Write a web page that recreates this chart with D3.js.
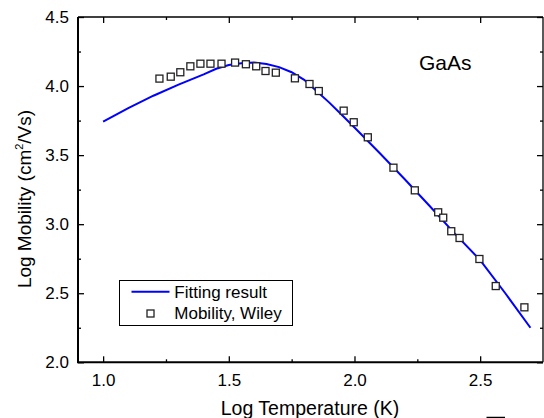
<!DOCTYPE html>
<html>
<head>
<meta charset="utf-8">
<script src="https://cdn.jsdelivr.net/npm/d3@7"></script>
<style>
  body { margin: 0; background: #fff; }
  svg { display: block; font-family: "Liberation Sans", Arial, sans-serif; }
</style>
</head>
<body>
<svg id="chart" width="544" height="418"></svg>
<script>
// measured points (Wiley)
const logT = [1.224, 1.269, 1.307, 1.347, 1.387, 1.427, 1.471, 1.525, 1.568, 1.609, 1.646, 1.687,
  1.763, 1.821, 1.858, 1.957, 1.997, 2.053, 2.155, 2.240, 2.333, 2.353, 2.385, 2.418, 2.497, 2.562, 2.676];
const logMu = [4.054, 4.068, 4.100, 4.143, 4.162, 4.162, 4.162, 4.170, 4.158, 4.143, 4.109, 4.097,
  4.056, 4.015, 3.964, 3.822, 3.738, 3.629, 3.409, 3.245, 3.086, 3.047, 2.949, 2.900, 2.748, 2.552, 2.398];

// fitted curve
const fitT = [1.00, 1.10, 1.20, 1.30, 1.40, 1.45, 1.50, 1.55, 1.60, 1.65, 1.70, 1.75, 1.80, 1.85,
  1.90, 1.95, 2.00, 2.10, 2.20, 2.30, 2.40, 2.50, 2.60, 2.70];
const fitMu = [3.742, 3.840, 3.930, 4.010, 4.085, 4.125, 4.152, 4.165, 4.170, 4.160, 4.137, 4.100,
  4.045, 3.963, 3.880, 3.790, 3.700, 3.515, 3.325, 3.130, 2.930, 2.740, 2.500, 2.250];

const xTicks = [1.0, 1.5, 2.0, 2.5];
const yTicks = [2.0, 2.5, 3.0, 3.5, 4.0, 4.5];

const svg = d3.select('#chart');
const pLeft = 78, pRight = 543, pTop = 17, pBottom = 362.3;

const x = d3.scaleLinear().domain([0.9, 2.75]).range([pLeft, pRight]);
const y = d3.scaleLinear().domain([2.0, 4.5]).range([pBottom, pTop]);

const xMinor = [1.25, 1.75, 2.25];
const yMinor = d3.range(2.25, 4.5, 0.5);

// fitted line first, squares on top
const line = d3.line().x((d) => x(d[0])).y((d) => y(d[1]));
svg.append('path')
  .datum(d3.zip(fitT, fitMu))
  .attr('d', line)
  .attr('fill', 'none')
  .attr('stroke', '#0000ff')
  .attr('stroke-width', 2);

svg.append('g')
  .selectAll('rect')
  .data(d3.zip(logT, logMu))
  .join('rect')
  .attr('x', (d) => x(d[0]) - 3.5)
  .attr('y', (d) => y(d[1]) - 3.5)
  .attr('width', 7)
  .attr('height', 7)
  .attr('fill', '#fff')
  .attr('stroke', '#222')
  .attr('stroke-width', 1.3);

// axes: ticks point inward on all four sides
const xBottom = d3.axisBottom(x).tickValues(xTicks).tickSize(-6).tickFormat(d3.format('.1f')).tickPadding(12);
const gxb = svg.append('g').attr('transform', `translate(0,${pBottom})`).call(xBottom);
svg.append('g').attr('transform', `translate(0,${pBottom})`)
  .call(d3.axisBottom(x).tickValues(xMinor).tickSize(-3).tickFormat(''));

svg.append('g').attr('transform', `translate(0,${pTop})`)
  .call(d3.axisTop(x).tickValues(xTicks).tickSize(-6).tickFormat(''));
svg.append('g').attr('transform', `translate(0,${pTop})`)
  .call(d3.axisTop(x).tickValues(xMinor).tickSize(-3).tickFormat(''));

const yLeft = d3.axisLeft(y).tickValues(yTicks).tickSize(-6).tickFormat(d3.format('.1f')).tickPadding(9);
svg.append('g').attr('transform', `translate(${pLeft},0)`).call(yLeft);
svg.append('g').attr('transform', `translate(${pLeft},0)`)
  .call(d3.axisLeft(y).tickValues(yMinor).tickSize(-3).tickFormat(''));

svg.append('g').attr('transform', `translate(${pRight},0)`)
  .call(d3.axisRight(y).tickValues(yTicks).tickSize(-6).tickFormat(''));
svg.append('g').attr('transform', `translate(${pRight},0)`)
  .call(d3.axisRight(y).tickValues(yMinor).tickSize(-3).tickFormat(''));

svg.selectAll('.domain').remove();
svg.selectAll('.tick line').attr('stroke', '#000').attr('stroke-width', 1.3);
svg.selectAll('.tick text').attr('font-size', 17).attr('font-family', '"Liberation Sans", Arial, sans-serif').attr('fill', '#000');
gxb.selectAll('.tick text').attr('dy', '0.71em');

// frame
const frame = svg.append('g').attr('stroke', '#000');
frame.append('line').attr('x1', pLeft - 1).attr('x2', pRight).attr('y1', pBottom).attr('y2', pBottom).attr('stroke-width', 2);
frame.append('line').attr('x1', pLeft).attr('x2', pLeft).attr('y1', pTop).attr('y2', pBottom).attr('stroke-width', 2);
frame.append('line').attr('x1', pLeft).attr('x2', pRight).attr('y1', pTop).attr('y2', pTop).attr('stroke-width', 1.5);
frame.append('line').attr('x1', pRight).attr('x2', pRight).attr('y1', pTop).attr('y2', pBottom).attr('stroke-width', 1.3);

// axis titles
svg.append('text')
  .attr('x', 310).attr('y', 415)
  .attr('text-anchor', 'middle')
  .attr('font-size', 19.5)
  .text('Log Temperature (K)');

const yt = svg.append('text')
  .attr('transform', 'translate(31,199) rotate(-90)')
  .attr('text-anchor', 'middle')
  .attr('font-size', 19);
yt.append('tspan').text('Log Mobility (cm');
yt.append('tspan').attr('font-size', 11).attr('dy', -8).text('2');
yt.append('tspan').attr('dy', 8).text('/Vs)');

svg.append('text')
  .attr('x', 419).attr('y', 70)
  .attr('font-size', 21)
  .text('GaAs');

// legend
const lg = svg.append('g');
lg.append('rect')
  .attr('x', 119.5).attr('y', 280.5).attr('width', 173).attr('height', 45)
  .attr('fill', '#fff').attr('stroke', '#000').attr('stroke-width', 1);
lg.append('line')
  .attr('x1', 131.5).attr('x2', 169.5).attr('y1', 291.7).attr('y2', 291.7)
  .attr('stroke', '#0000ff').attr('stroke-width', 2);
lg.append('rect')
  .attr('x', 147).attr('y', 310).attr('width', 7).attr('height', 7)
  .attr('fill', '#fff').attr('stroke', '#222').attr('stroke-width', 1.3);
lg.append('text').attr('x', 174.3).attr('y', 298.3).attr('font-size', 17).text('Fitting result');
lg.append('text').attr('x', 174.3).attr('y', 319).attr('font-size', 17).text('Mobility, Wiley');

// clipped edge of an element below the picture
svg.append('line')
  .attr('x1', 486.5).attr('x2', 505).attr('y1', 417.5).attr('y2', 417.5)
  .attr('stroke', '#000').attr('stroke-width', 1.5);
</script>
</body>
</html>
